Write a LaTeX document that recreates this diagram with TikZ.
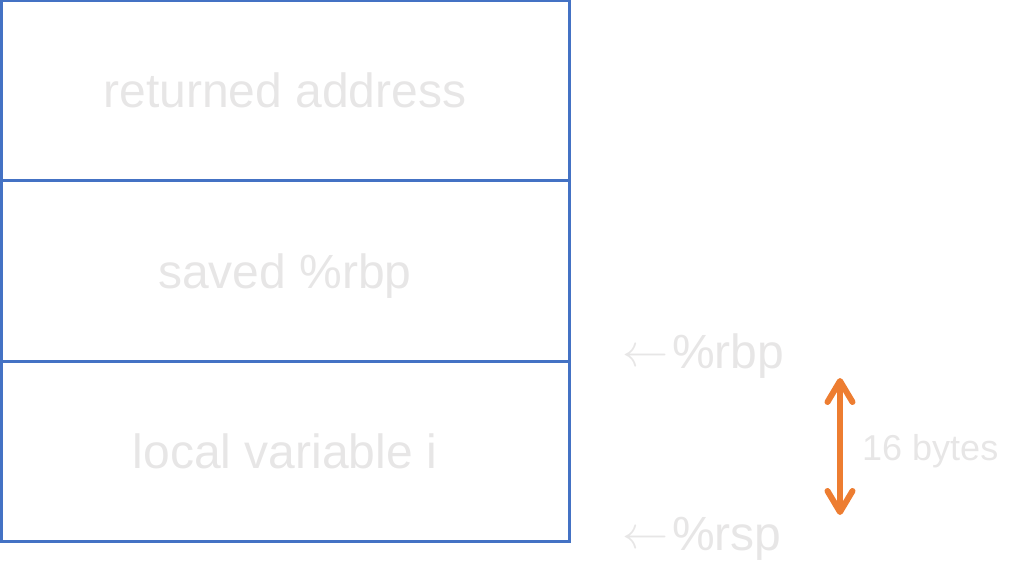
\documentclass[tikz,border=0pt]{standalone}
\usepackage{graphicx}
\usepackage{fontspec}
\setmainfont{Liberation Sans}
\usetikzlibrary{arrows.meta}
\definecolor{boxblue}{HTML}{4472C4}
\definecolor{lightgray}{HTML}{E7E6E6}
\definecolor{arroworange}{HTML}{ED7D31}
\newcommand{\bigleft}{\raisebox{1.5pt}{\resizebox{46pt}{!}{$\leftarrow$}}\kern4pt}
\begin{document}
\begin{tikzpicture}[x=1pt,y=-1pt,
  frame/.style={draw=boxblue,line width=3pt,minimum width=568pt,minimum height=180pt,
    inner sep=0pt,outer sep=0pt,text=lightgray,font=\fontsize{48}{50}\selectfont,
    text height=34pt,text depth=0pt},
  label/.style={text=lightgray,inner sep=0pt,anchor=base west},
  span/.style={draw=arroworange,line width=6pt,
    {Straight Barb[length=21pt,width=25pt,line cap=round,line join=round]}-{Straight Barb[length=21pt,width=25pt,line cap=round,line join=round]}}]
\useasboundingbox (0,0) rectangle (1023,572);
\node[frame] (ret) at (285,91) {returned address};
\node[frame] (rbp) at (285,271) {saved \%rbp};
\node[frame] (loc) at (285,451) {local variable i};
\node[label,font=\fontsize{48}{50}\selectfont] (lrbp) at (622,368) {\bigleft\%rbp};
\node[label,font=\fontsize{48}{50}\selectfont] (lrsp) at (622,550) {\bigleft\%rsp};
\node[label,font=\fontsize{36}{40}\selectfont] (bytes) at (862,460) {16 bytes};
\coordinate (top) at (840,378);
\coordinate (bot) at (840,515);
\draw[span] (top) -- (bot);
\end{tikzpicture}
\end{document}
